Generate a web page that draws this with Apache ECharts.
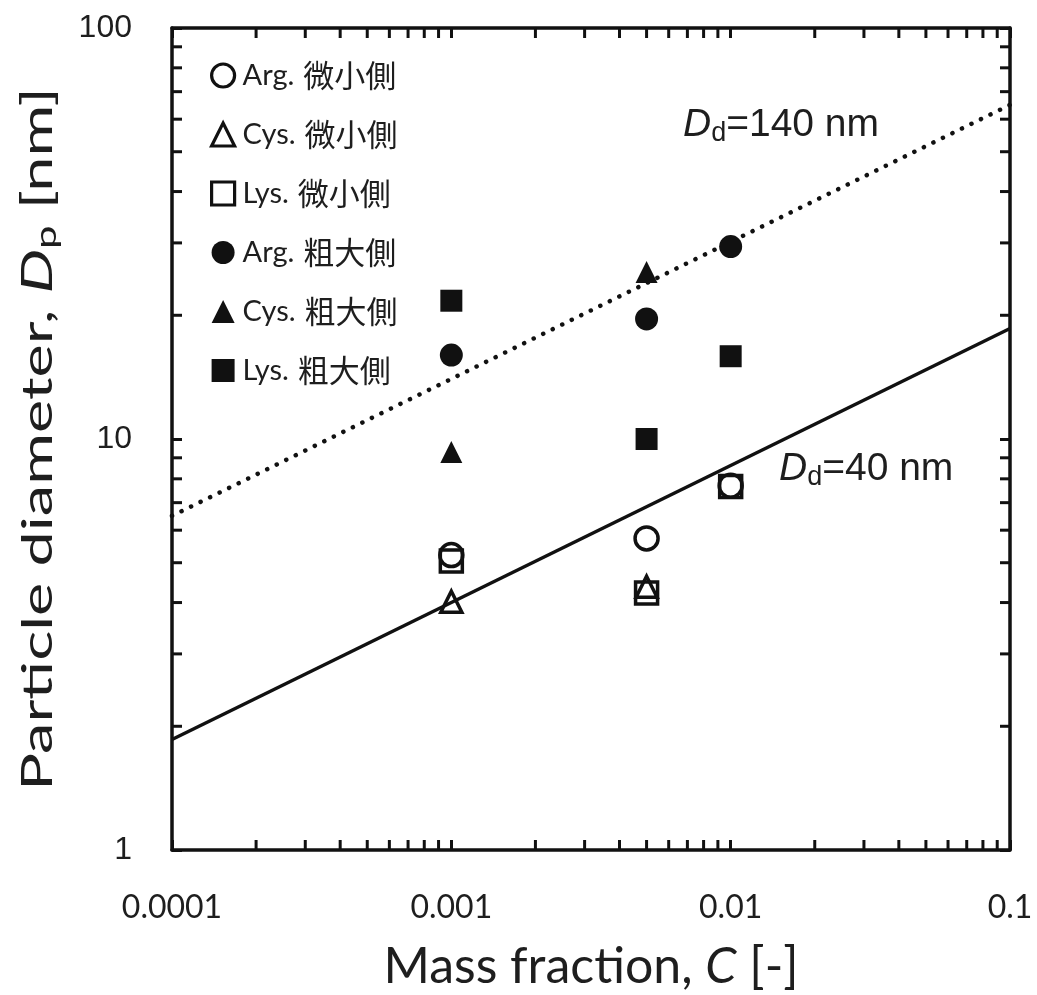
<!DOCTYPE html>
<html>
<head>
<meta charset="utf-8">
<script src="https://cdn.jsdelivr.net/npm/echarts@6/dist/echarts.min.js"></script>
<style>
    html, body { margin: 0; padding: 0; background: #fff; }
    #main { width: 1037px; height: 995px; }
</style>
</head>
<body>
<div id="main"></div>
<script>
    // 系列名
    var seriesNames = ['Arg. 微小側', 'Cys. 微小側', 'Lys. 微小側', 'Arg. 粗大側', 'Cys. 粗大側', 'Lys. 粗大側'];
    // [C, Dp]
    var argFine = [[0.001, 5.22], [0.005, 5.73], [0.01, 7.7]];
    var cysFine = [[0.001, 4.02], [0.005, 4.37]];
    var lysFine = [[0.001, 5.05], [0.005, 4.22], [0.01, 7.66]];
    var argCoarse = [[0.001, 16.0], [0.005, 19.6], [0.01, 29.4]];
    var cysCoarse = [[0.001, 9.3], [0.005, 25.5]];
    var lysCoarse = [[0.001, 21.7], [0.005, 10.0], [0.01, 15.9]];
    // Dd=40 nm / Dd=140 nm
    var line40 = [[0.0001, 1.857], [0.1, 18.57]];
    var line140 = [[0.0001, 6.50], [0.1, 65.0]];
    // 目盛
    var xTickLabels = ['0.0001', '0.001', '0.01', '0.1'];
    var yTickLabels = ['1', '10', '100'];
    var xMinor = [0.0002, 0.0003, 0.0004, 0.0005, 0.0006, 0.0007, 0.0008, 0.0009,
                  0.002, 0.003, 0.004, 0.005, 0.006, 0.007, 0.008, 0.009,
                  0.02, 0.03, 0.04, 0.05, 0.06, 0.07, 0.08, 0.09];
    var yMinor = [2, 3, 4, 5, 6, 7, 8, 9, 20, 30, 40, 50, 60, 70, 80, 90];

    var ink = '#111';
    var txt = '#1e1e1e';
    var latin = 'Lato, "Noto Sans CJK JP", sans-serif';
    var cjk = '"Noto Sans CJK JP", sans-serif';
    var arial = '"Liberation Sans", Arial, sans-serif';

    function decade(v, base) {
        return Math.round(Math.log(v) / Math.LN10) - base;
    }

    var axisCommon = {
        type: 'log',
        logBase: 10,
        axisLine: { show: true, onZero: false, lineStyle: { color: ink, width: 3.5 } },
        axisTick: { show: true, inside: true, length: 10, lineStyle: { color: ink, width: 3 } },
        splitLine: { show: false },
        minorTick: { show: false },
        minorSplitLine: { show: false }
    };

    function tickSeries(data, size, offset) {
        return {
            type: 'scatter',
            silent: true,
            clip: false,
            symbol: 'rect',
            symbolSize: size,
            symbolOffset: offset,
            itemStyle: { color: ink, opacity: 1 },
            data: data,
            z: 1
        };
    }

    function markSeries(name, data, symbol, size, filled) {
        return {
            name: name,
            type: 'scatter',
            symbol: symbol,
            symbolSize: size,
            itemStyle: filled
                ? { color: ink, borderWidth: 0, opacity: 1 }
                : { color: 'rgba(255,255,255,0)', borderColor: ink, borderWidth: 3.5, opacity: 1 },
            data: data,
            z: 5
        };
    }

    var ddRich = {
        i: { fontFamily: arial, fontSize: 39, fontStyle: 'italic', fill: txt },
        s: { fontFamily: arial, fontSize: 27, fill: txt, padding: [16, 0, 0, 0] },
        n: { fontFamily: arial, fontSize: 39, fill: txt }
    };

    var myChart = echarts.init(document.getElementById('main'), null, { renderer: 'canvas' });
    var option = {
        backgroundColor: '#fff',
        animation: false,
        grid: { left: 172, right: 27, top: 28, bottom: 145, containLabel: false, outerBoundsMode: 'none' },
        legend: {
            orient: 'vertical',
            left: 205,
            top: 55,
            itemWidth: 23,
            itemHeight: 23,
            itemGap: 28,
            selectedMode: false,
            data: seriesNames.map(function (n, i) {
                return i < 3 ? { name: n, itemStyle: { borderWidth: 3.2 } } : { name: n };
            }),
            formatter: function (n) {
                var p = n.split(' ');
                return '{l|' + p[0] + '}{c|' + p[1] + '}';
            },
            textStyle: {
                color: txt,
                padding: [0, 0, 0, 3],
                rich: {
                    l: { fontFamily: latin, fontSize: 29, color: txt, lineHeight: 30, padding: [0, 9, 0, 0] },
                    c: { fontFamily: cjk, fontSize: 31, color: txt, lineHeight: 30 }
                }
            }
        },
        xAxis: [
            Object.assign({}, axisCommon, {
                min: 0.0001, max: 0.1, position: 'bottom',
                name: '{t|Mass fraction, }{i|C}{t| [-]}',
                nameLocation: 'middle',
                nameGap: 92,
                nameTextStyle: {
                    rich: {
                        t: { fontFamily: latin, fontSize: 50, color: txt },
                        i: { fontFamily: latin, fontSize: 50, fontStyle: 'italic', color: txt }
                    }
                },
                axisLabel: {
                    margin: 42, fontFamily: latin, fontSize: 32, color: txt,
                    formatter: function (v) { return xTickLabels[decade(v, -4)]; }
                }
            }),
            Object.assign({}, axisCommon, {
                min: 0.0001, max: 0.1, position: 'top', axisLabel: { show: false }
            })
        ],
        yAxis: [
            Object.assign({}, axisCommon, {
                min: 1, max: 100, position: 'left',
                axisLabel: {
                    margin: 40, fontFamily: arial, fontSize: 32, color: txt,
                    formatter: function (v) { return yTickLabels[decade(v, 0)]; }
                }
            }),
            Object.assign({}, axisCommon, {
                min: 1, max: 100, position: 'right', axisLabel: { show: false }
            })
        ],
        graphic: [
            {
                // 縦軸タイトル（元図は縦に引き伸ばされている）
                type: 'text', x: 38, y: 439, rotation: Math.PI / 2, scaleX: 1.5, z: 10,
                style: {
                    text: '{t|Particle diameter, }{i|D}{s|p}{t| [nm]}',
                    align: 'center',
                    verticalAlign: 'middle',
                    rich: {
                        t: { fontFamily: latin, fontSize: 42, fill: txt },
                        i: { fontFamily: latin, fontSize: 42, fontStyle: 'italic', fill: txt },
                        s: { fontFamily: latin, fontSize: 28, fill: txt, padding: [18, 0, 0, 0] }
                    }
                }
            },
            {
                type: 'text', left: 683, top: 106, z: 10,
                style: { text: '{i|D}{s|d}{n|=140 nm}', rich: ddRich }
            },
            {
                type: 'text', left: 779, top: 450, z: 10,
                style: { text: '{i|D}{s|d}{n|=40 nm}', rich: ddRich }
            }
        ],
        series: [
            {
                type: 'line', data: line40, showSymbol: false, silent: true, z: 3,
                lineStyle: { color: ink, width: 3.5 }
            },
            {
                type: 'line', data: line140, showSymbol: false, silent: true, z: 3,
                lineStyle: { color: ink, width: 4.5, type: [0.1, 10.5], cap: 'round' }
            },
            tickSeries(xMinor.map(function (v) { return [v, 1]; }), [3, 10], [0, -5]),
            tickSeries(xMinor.map(function (v) { return [v, 100]; }), [3, 10], [0, 5]),
            tickSeries(yMinor.map(function (v) { return [0.0001, v]; }), [10, 3], [5, 0]),
            tickSeries(yMinor.map(function (v) { return [0.1, v]; }), [10, 3], [-5, 0]),
            markSeries(seriesNames[0], argFine, 'circle', 23, false),
            markSeries(seriesNames[1], cysFine, 'triangle', 21, false),
            markSeries(seriesNames[2], lysFine, 'rect', 22, false),
            markSeries(seriesNames[3], argCoarse, 'circle', 23, true),
            markSeries(seriesNames[4], cysCoarse, 'triangle', 22, true),
            markSeries(seriesNames[5], lysCoarse, 'rect', 22, true)
        ]
    };
    myChart.setOption(option);
</script>
</body>
</html>
